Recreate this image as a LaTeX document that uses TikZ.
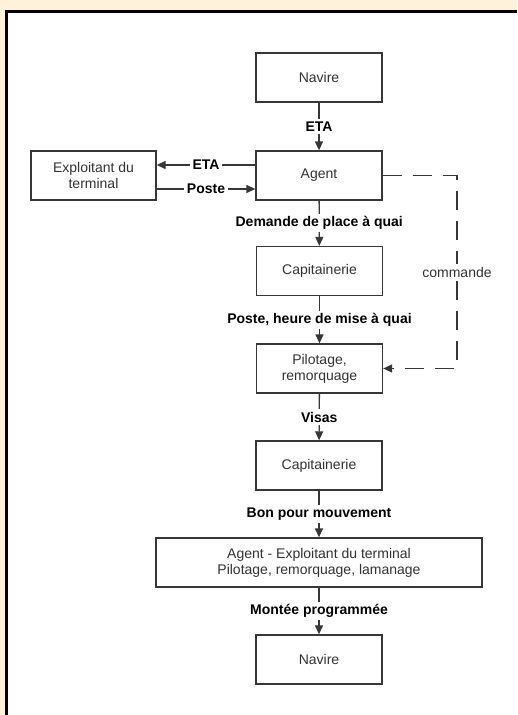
\documentclass[tikz,border=0pt]{standalone}
\usepackage{fontspec}
\setmainfont{Liberation Sans}
\usetikzlibrary{arrows.meta,calc}
\definecolor{cream}{RGB}{255,242,216}
\definecolor{boxline}{RGB}{55,55,55}
\definecolor{txt}{RGB}{50,50,50}
\begin{document}
\begin{tikzpicture}[x=1pt,y=1pt,
  box/.style={draw=boxline,line width=1.3pt,fill=white,minimum width=126pt,minimum height=49pt,inner sep=0pt,align=center,font=\fontsize{14}{16}\selectfont,text=txt},
  lbl/.style={fill=white,inner sep=2.5pt,font=\fontsize{14}{16}\selectfont\bfseries,text=black},
  plainlbl/.style={fill=white,inner sep=2.5pt,font=\fontsize{14}{16}\selectfont,text=txt},
  conn/.style={draw=boxline,line width=1.3pt},
  arr/.style={conn,-{Triangle[length=9pt,width=8pt]}},
  dasharr/.style={arr,dash pattern=on 19pt off 11pt}]
\useasboundingbox (0,0) rectangle (517,-715);
\fill[cream] (0,0) rectangle (517,-715);
\fill[white] (6.5,-11.5) rectangle (517,-715);
\draw[black,line width=3pt] (6.5,-715) -- (6.5,-11.5) -- (517,-11.5);

\node[box] (nav1) at (319,-77.5) {Navire};
\node[box] (agent) at (319,-175.5) {Agent};
\node[box,minimum width=125pt] (expl) at (93.5,-175.5) {Exploitant du\\terminal};
\node[box] (cap1) at (319.5,-271) {Capitainerie};
\node[box] (pilot) at (319.5,-368.5) {Pilotage,\\remorquage};
\node[box] (cap2) at (319,-465.5) {Capitainerie};
\node[box,minimum width=326pt] (big) at (319,-562.5) {Agent - Exploitant du terminal\\Pilotage, remorquage, lamanage};
\node[box] (nav2) at (319,-659.5) {Navire};

\coordinate (dc1) at (457,-175.5);
\coordinate (dc2) at (457,-368.5);

\draw[arr] (nav1) -- node[lbl] {ETA} (agent);
\draw[arr] ([yshift=10.5pt]agent.west) -- node[lbl] {ETA} ([yshift=10.5pt]expl.east);
\draw[arr] ([yshift=-13.5pt]expl.east) -- node[lbl] {Poste} ([yshift=-13.5pt]agent.west);
\draw[arr] (agent) -- node[lbl] {Demande de place à quai} (cap1);
\draw[arr] (cap1) -- node[lbl] {Poste, heure de mise à quai} (pilot);
\draw[arr] (pilot) -- node[lbl] {Visas} (cap2);
\draw[arr] (cap2) -- node[lbl] {Bon pour mouvement} (big);
\draw[arr] (big) -- node[lbl] {Montée programmée} (nav2);
\draw[dasharr] (agent.east) -- (dc1) -- node[plainlbl] {commande} (dc2) -- (pilot.east);
\end{tikzpicture}
\end{document}
